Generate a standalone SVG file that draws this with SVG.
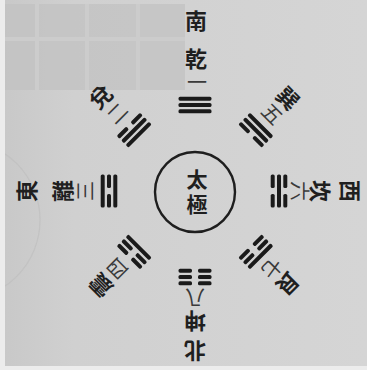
<svg xmlns="http://www.w3.org/2000/svg" width="367" height="370" viewBox="0 0 367 370">
  <style>
    .t { font-family: "Noto Sans CJK JP", "Noto Sans CJK TC", sans-serif; font-size: 22px; fill: #1f1f1f; text-anchor: middle; dominant-baseline: central; font-weight: 600; }
    .n { fill: #3a3a3a; font-weight: 400; font-size: 20px; }
    .c { font-size: 21px; }
    .line { fill: #1a1a1a; }
    .ring { fill: none; stroke: #1e1e1e; stroke-width: 2.4; }
  </style>
  <defs>
    <linearGradient id="bg" x1="0" y1="0" x2="1" y2="0">
      <stop offset="0" stop-color="#c8c8c8"/>
      <stop offset="0.2" stop-color="#d0d0d0"/>
      <stop offset="1" stop-color="#d5d5d5"/>
    </linearGradient>
    <rect id="yang" class="line" x="-16.5" y="-2" width="33" height="4" rx="1.6"/>
    <g id="yin">
      <rect class="line" x="-16.5" y="-2" width="13.5" height="4" rx="1.6"/>
      <rect class="line" x="3" y="-2" width="13.5" height="4" rx="1.6"/>
    </g>
  </defs>

  <!-- page background -->
  <rect x="0" y="0" width="367" height="370" fill="url(#bg)"/>
  <rect x="5" y="4" width="180" height="86" fill="#c2c2c2" opacity="0.75"/>
  <g stroke="#cdcdcd" stroke-width="4" opacity="0.9">
    <line x1="37" y1="4" x2="37" y2="90"/>
    <line x1="87" y1="4" x2="87" y2="90"/>
    <line x1="138" y1="4" x2="138" y2="90"/>
    <line x1="5" y1="39" x2="185" y2="39"/>
  </g>
  <circle cx="-40" cy="220" r="80" fill="none" stroke="#bcbcbc" stroke-width="1.2" opacity="0.6"/>
  <rect x="0" y="0" width="5" height="370" fill="#ececec"/>
  <rect x="0" y="366" width="367" height="4" fill="#ececec"/>

  <g id="connectors"/>

  <!-- centre: Taiji -->
  <g id="taiji">
    <circle class="ring" cx="195" cy="192" r="40"/>
    <text class="t c" x="197" y="178">太</text>
    <text class="t c" x="197" y="203">極</text>
  </g>

  <!-- 乾 (south, top) ☰ -->
  <g id="qian" transform="rotate(0 195 191)">
    <g transform="translate(195 105)">
      <use href="#yang" y="-6.3"/><use href="#yang" y="0"/><use href="#yang" y="6.3"/>
    </g>
    <text class="t n" x="197" y="81">一</text>
    <text class="t" x="196" y="57">乾</text>
    <text class="t" x="196" y="19">南</text>
  </g>

  <!-- 兌 (upper left) ☱ -->
  <g id="dui" transform="rotate(-45 195 191)">
    <g transform="translate(195 105)">
      <use href="#yin" y="-6.3"/><use href="#yang" y="0"/><use href="#yang" y="6.3"/>
    </g>
    <text class="t n" x="195" y="80">二</text>
    <text class="t" x="195" y="56">兌</text>
  </g>

  <!-- 離 (east, left) ☲ -->
  <g id="li" transform="rotate(-90 195 191)">
    <g transform="translate(195 105)">
      <use href="#yang" y="-6.3"/><use href="#yin" y="0"/><use href="#yang" y="6.3"/>
    </g>
    <text class="t n" x="195" y="80">三</text>
    <text class="t" x="195" y="57">離</text>
    <text class="t" x="195" y="21">東</text>
  </g>

  <!-- 震 (lower left) ☳ -->
  <g id="zhen" transform="rotate(-135 195 191)">
    <g transform="translate(195 105)">
      <use href="#yin" y="-6.3"/><use href="#yin" y="0"/><use href="#yang" y="6.3"/>
    </g>
    <text class="t n" x="195" y="80">四</text>
    <text class="t" x="195" y="56">震</text>
  </g>

  <!-- 巽 (upper right) ☴ -->
  <g id="xun" transform="rotate(45 195 191)">
    <g transform="translate(195 105)">
      <use href="#yang" y="-6.3"/><use href="#yang" y="0"/><use href="#yin" y="6.3"/>
    </g>
    <text class="t n" x="195" y="81">五</text>
    <text class="t" x="195" y="58">巽</text>
  </g>

  <!-- 坎 (west, right) ☵ -->
  <g id="kan" transform="rotate(90 195 191)">
    <g transform="translate(195 107)">
      <use href="#yin" y="-6.3"/><use href="#yang" y="0"/><use href="#yin" y="6.3"/>
    </g>
    <text class="t n" x="195" y="86">六</text>
    <text class="t" x="195" y="64">坎</text>
    <text class="t" x="195" y="34">西</text>
  </g>

  <!-- 艮 (lower right) ☶ -->
  <g id="gen" transform="rotate(135 195 191)">
    <g transform="translate(195 105)">
      <use href="#yang" y="-6.3"/><use href="#yin" y="0"/><use href="#yin" y="6.3"/>
    </g>
    <text class="t n" x="195" y="81">七</text>
    <text class="t" x="195" y="58">艮</text>
  </g>

  <!-- 坤 (north, bottom) ☷ -->
  <g id="kun" transform="rotate(180 195 191)">
    <g transform="translate(195 105)">
      <use href="#yin" y="-6.3"/><use href="#yin" y="0"/><use href="#yin" y="6.3"/>
    </g>
    <text class="t n" x="195" y="84">八</text>
    <text class="t" x="195" y="59">坤</text>
    <text class="t" x="195" y="29">北</text>
  </g>
</svg>
